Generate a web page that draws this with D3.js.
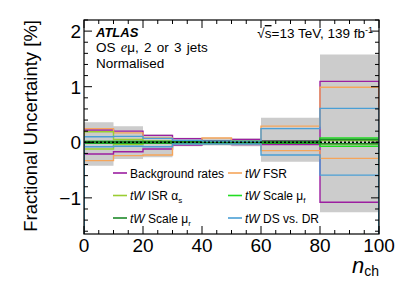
<!DOCTYPE html>
<html>
<head>
<meta charset="utf-8">
<script src="https://cdn.jsdelivr.net/npm/d3@7"></script>
<style>
  body { margin: 0; background: #fff; }
  svg text { font-family: "Liberation Sans", Arial, Helvetica, sans-serif; fill: #000; }
</style>
</head>
<body>
<div id="chart"></div>
<script>
// bin edges in n_ch
const binEdges = [0, 10, 20, 30, 40, 50, 60, 80, 100];

// total uncertainty band
const totalUp   = [0.36, 0.29, 0.14, 0.08, 0.08, 0.07, 0.44, 1.58];
const totalDown = [-0.42, -0.30, -0.27, -0.07, -0.06, -0.07, -0.35, -1.26];

// individual systematics (up / down)
const bkgUp    = [0.22, 0.20, 0.125, 0.066, 0.03, 0.05, 0.03, 1.095];
const bkgDown  = [-0.21, -0.17, -0.12, -0.05, -0.03, -0.04, -0.04, -1.08];
const fsrUp    = [0.245, 0.17, 0.08, 0.03, 0.077, 0.03, 0.29, 0.99];
const fsrDown  = [-0.33, -0.24, -0.23, -0.03, -0.035, -0.03, -0.15, -0.29];
const isrUp    = [0.19, 0.05, 0.02, 0.01, 0.01, 0.01, 0.01, 0.03];
const isrDown  = [-0.12, -0.04, -0.02, -0.01, -0.01, -0.01, -0.01, -0.03];
const muFUp    = [0.015, 0.015, 0.015, 0.015, 0.015, 0.015, 0.015, 0.077];
const muFDown  = [-0.015, -0.015, -0.015, -0.015, -0.015, -0.015, -0.015, -0.07];
const muRUp    = [0.012, 0.012, 0.012, 0.012, 0.012, 0.012, 0.012, 0.048];
const muRDown  = [-0.012, -0.012, -0.012, -0.012, -0.012, -0.012, -0.012, -0.025];
const dsdrUp   = [0.10, 0.107, 0.07, 0.035, 0.02, 0.02, 0.245, 0.61];
const dsdrDown = [-0.08, -0.07, -0.08, -0.03, -0.03, -0.03, -0.23, -0.59];

const yTicks = [-1, 0, 1, 2];
const xTicks = [0, 20, 40, 60, 80, 100];

const systs = [
  { name: "bkg",  up: bkgUp,  down: bkgDown,  color: "#9c1ea0" },
  { name: "fsr",  up: fsrUp,  down: fsrDown,  color: "#f5a55a" },
  { name: "isr",  up: isrUp,  down: isrDown,  color: "#9acd32" },
  { name: "muF",  up: muFUp,  down: muFDown,  color: "#22dd22" },
  { name: "muR",  up: muRUp,  down: muRDown,  color: "#1f8a2a" },
  { name: "dsdr", up: dsdrUp, down: dsdrDown, color: "#4a9fd5" }
];

// legend rows (2 columns)
const legendItems = [
  { color: "#9c1ea0", parts: [["Background rates", ""]] },
  { color: "#f5a55a", parts: [["tW", "i"], [" FSR", ""]] },
  { color: "#9acd32", parts: [["tW", "i"], [" ISR α", ""], ["s", "sub"]] },
  { color: "#22dd22", parts: [["tW", "i"], [" Scale μ", ""], ["f", "sub"]] },
  { color: "#1f8a2a", parts: [["tW", "i"], [" Scale μ", ""], ["r", "sub"]] },
  { color: "#4a9fd5", parts: [["tW", "i"], [" DS vs. DR", ""]] }
];

const width = 399, height = 286;
const margin = { left: 84, right: 20, top: 20, bottom: 52 };
const innerW = width - margin.left - margin.right;
const innerH = height - margin.top - margin.bottom;

const svg = d3.select("#chart").append("svg")
  .attr("width", width)
  .attr("height", height);

const x = d3.scaleLinear().domain([0, 100]).range([0, innerW]);
const y = d3.scaleLinear().domain([-1.65, 2.2]).range([innerH, 0]);

const g = svg.append("g")
  .attr("transform", `translate(${margin.left},${margin.top})`);

g.append("clipPath").attr("id", "clip")
  .append("rect").attr("width", innerW).attr("height", innerH);

const plot = g.append("g").attr("clip-path", "url(#clip)");

// band
const bandData = binEdges.map((e, i) => ({
  x: e,
  up: totalUp[Math.min(i, totalUp.length - 1)],
  down: totalDown[Math.min(i, totalDown.length - 1)]
}));
const area = d3.area()
  .curve(d3.curveStepAfter)
  .x(d => x(d.x))
  .y0(d => y(d.down))
  .y1(d => y(d.up));
plot.append("path")
  .datum(bandData)
  .attr("d", area)
  .attr("fill", "#cccccc");

// step outlines starting and ending at the frame bottom
const yMin = y.domain()[0];
function stepPoints(vals) {
  const pts = [[0, yMin]];
  vals.forEach((v, i) => pts.push([binEdges[i], v]));
  pts.push([binEdges[binEdges.length - 1], vals[vals.length - 1]]);
  pts.push([binEdges[binEdges.length - 1], yMin]);
  return pts;
}
const line = d3.line()
  .curve(d3.curveStepAfter)
  .x(d => x(d[0]))
  .y(d => y(d[1]));

systs.forEach(s => {
  [s.up, s.down].forEach(vals => {
    plot.append("path")
      .datum(stepPoints(vals))
      .attr("d", line)
      .attr("fill", "none")
      .attr("stroke", s.color)
      .attr("stroke-width", s.name === "muF" || s.name === "muR" ? 1.6 : 1.4);
  });
});

// nominal
plot.append("line")
  .attr("x1", x(0)).attr("x2", x(100))
  .attr("y1", y(0)).attr("y2", y(0))
  .attr("stroke", "#000")
  .attr("stroke-width", 1.6)
  .attr("stroke-dasharray", "2,2");

// frame
g.append("rect")
  .attr("width", innerW).attr("height", innerH)
  .attr("fill", "none").attr("stroke", "#000").attr("stroke-width", 1.2);

// ticks (ROOT style, inside, on all four sides)
const tickG = g.append("g").attr("stroke", "#000").attr("stroke-width", 1);
d3.range(0, 101, 5).forEach(v => {
  const len = v % 20 === 0 ? 8 : 4;
  tickG.append("line").attr("x1", x(v)).attr("x2", x(v)).attr("y1", innerH).attr("y2", innerH - len);
  tickG.append("line").attr("x1", x(v)).attr("x2", x(v)).attr("y1", 0).attr("y2", len);
});
d3.range(-16, 23, 2).forEach(k => {
  const v = k / 10;
  const len = k % 10 === 0 ? 8 : 4;
  tickG.append("line").attr("x1", 0).attr("x2", len).attr("y1", y(v)).attr("y2", y(v));
  tickG.append("line").attr("x1", innerW).attr("x2", innerW - len).attr("y1", y(v)).attr("y2", y(v));
});

// tick labels
g.selectAll(".xl").data(xTicks).enter().append("text")
  .attr("x", d => x(d)).attr("y", innerH + 18)
  .attr("text-anchor", "middle")
  .style("font-size", "19px")
  .text(d => d);
g.selectAll(".yl").data(yTicks).enter().append("text")
  .attr("x", -3).attr("y", d => y(d) + 7)
  .attr("text-anchor", "end")
  .style("font-size", "19px")
  .text(d => d < 0 ? "\u2212" + Math.abs(d) : d);

// axis titles
svg.append("text")
  .attr("transform", `translate(37,${margin.top}) rotate(-90)`)
  .attr("text-anchor", "end")
  .style("font-size", "18.5px")
  .text("Fractional Uncertainty [%]");

const xt = svg.append("text")
  .attr("x", margin.left + innerW).attr("y", 273)
  .attr("text-anchor", "end")
  .style("font-size", "22px");
xt.append("tspan").style("font-style", "italic").text("n");
xt.append("tspan").attr("dy", 3).style("font-size", "14px").text("ch");

// ATLAS labels
svg.append("text").attr("x", 96).attr("y", 36.5)
  .style("font-size", "13px").style("font-weight", "bold").style("font-style", "italic")
  .text("ATLAS");
const os = svg.append("text").attr("x", 96).attr("y", 52)
  .style("font-size", "13.5px").style("word-spacing", "1.5px");
os.append("tspan").text("OS ");
os.append("tspan").style("font-style", "italic")
  .style("font-family", "'Liberation Serif', serif").style("font-size", "14.5px").text("e");
os.append("tspan").text("μ, 2 or 3 jets");
svg.append("text").attr("x", 96).attr("y", 67.5).style("font-size", "13.5px").text("Normalised");

const lumi = svg.append("text").attr("x", 373).attr("y", 38)
  .attr("text-anchor", "end").style("font-size", "13.5px");
lumi.append("tspan").text("√");
lumi.append("tspan").style("text-decoration", "overline").text("s");
lumi.append("tspan").text("=13 TeV, 139 fb");
lumi.append("tspan").attr("dy", -5).style("font-size", "9px").text("-1");

// legend
const legend = svg.append("g");
legendItems.forEach((item, i) => {
  const col = i % 2, row = Math.floor(i / 2);
  const lx = col === 0 ? 113 : 228;
  const ly = 173 + row * 22.5;
  legend.append("line")
    .attr("x1", lx).attr("x2", lx + 14)
    .attr("y1", ly).attr("y2", ly)
    .attr("stroke", item.color).attr("stroke-width", 1.6);
  const t = legend.append("text")
    .attr("x", lx + 17).attr("y", ly + 4.5)
    .style("font-size", "12px");
  item.parts.forEach(([txt, kind]) => {
    const ts = t.append("tspan").text(txt);
    if (kind === "i") ts.style("font-style", "italic");
    if (kind === "sub") ts.attr("dy", 3).style("font-size", "8px");
  });
});
</script>
</body>
</html>
